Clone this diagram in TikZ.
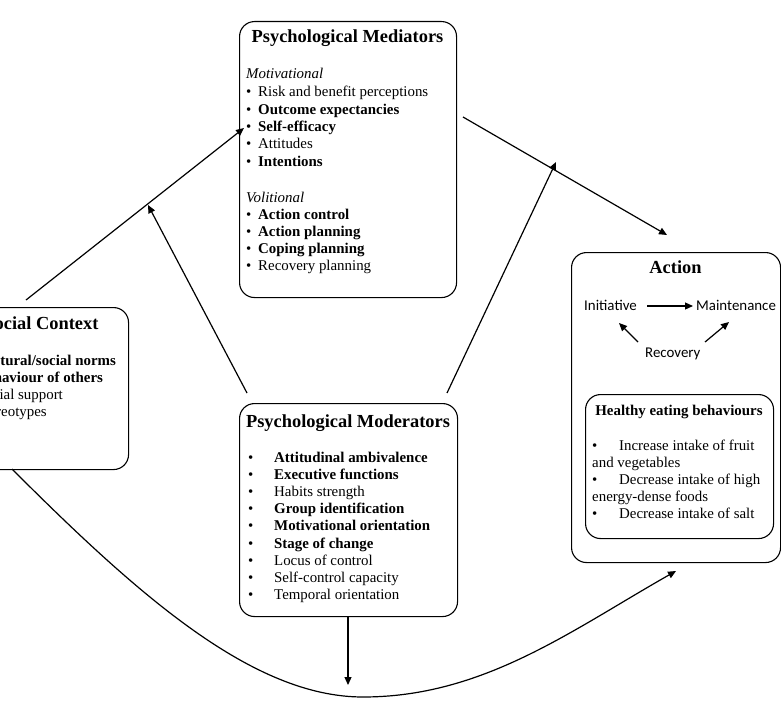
\documentclass[tikz,border=0pt]{standalone}
\usepackage{fontspec}
\setmainfont{Liberation Serif}
\newfontfamily\calfont{Carlito}
\usetikzlibrary{arrows.meta}
\begin{document}
\begin{tikzpicture}[x=1pt,y=-1pt,
  box/.style={draw, line width=1.1pt, rounded corners=15pt, anchor=north west, inner sep=0pt},
  body/.style={inner sep=0pt, anchor=base west, font=\fontsize{14.9}{17.3}\selectfont},
  cal/.style={inner sep=0pt, anchor=base west, font=\calfont\fontsize{14.9}{17.3}\selectfont},
  ttl/.style={inner sep=0pt, anchor=base, font=\fontsize{18.4}{22}\selectfont\bfseries},
  sttl/.style={inner sep=0pt, anchor=base, font=\fontsize{14.9}{17.3}\selectfont\bfseries},
  arr/.style={line width=1.2pt, -{Triangle[length=8pt,width=7pt]}},
  ]
\useasboundingbox (0,0) rectangle (781,714);
\clip (0,0) rectangle (781,714);

% ---------- Psychological Mediators ----------
\node[box, minimum width=217pt, minimum height=276pt] (med) at (239,21) {};
\node[ttl] (medt) at (347.5,43) {Psychological Mediators};
\node[body, font=\fontsize{14.9}{17.3}\selectfont\itshape] (mot) at (246,79) {Motivational};
\foreach \t [count=\i] in {Risk and benefit perceptions, \textbf{Outcome expectancies}, \textbf{Self-efficacy}, Attitudes, \textbf{Intentions}}
  \node[body] (ma\i) at (246,{97+17.3*(\i-1)}) {\makebox[12pt][l]{\textbullet}\t};
\node[body, font=\fontsize{14.9}{17.3}\selectfont\itshape] (vol) at (246,202) {Volitional};
\foreach \t [count=\i] in {\textbf{Action control}, \textbf{Action planning}, \textbf{Coping planning}, Recovery planning}
  \node[body] (mb\i) at (246,{219+17.3*(\i-1)}) {\makebox[12pt][l]{\textbullet}\t};

% ---------- Social Context ----------
\node[box, minimum width=173pt, minimum height=162pt] (soc) at (-45,307) {};
\node[ttl] (soct) at (41.5,329) {Social Context};
\foreach \t [count=\i] in {\textbf{Cultural/social norms}, \textbf{Behaviour of others}, Social support, Stereotypes}
  \node[body] (s\i) at (-35,{365+17.3*(\i-1)}) {\makebox[12pt][l]{\textbullet}\t};

% ---------- Psychological Moderators ----------
\node[box, minimum width=218pt, minimum height=213pt] (mod) at (239,403) {};
\node[ttl] (modt) at (348,427) {Psychological Moderators};
\foreach \t [count=\i] in {\textbf{Attitudinal ambivalence}, \textbf{Executive functions}, Habits strength, \textbf{Group identification}, \textbf{Motivational orientation}, \textbf{Stage of change}, Locus of control, Self-control capacity, Temporal orientation}
  \node[body] (d\i) at (248,{462+17.2*(\i-1)}) {\makebox[26pt][l]{\textbullet}\t};

% ---------- Action ----------
\node[box, minimum width=209pt, minimum height=310pt] (act) at (571,252) {};
\node[ttl] (actt) at (675.5,273) {Action};
\node[cal] (ini) at (584,310) {Initiative};
\node[cal] (mai) at (696,310) {Maintenance};
\node[cal] (rec) at (645,357) {Recovery};
\coordinate (ia) at (647,306);
\coordinate (ib) at (693,306);
\draw[arr] (ia) -- (ib);
\coordinate (ra) at (638,342);
\coordinate (rb) at (619,323);
\draw[arr] (ra) -- (rb);
\coordinate (rc) at (705,342);
\coordinate (rd) at (729,322);
\draw[arr] (rc) -- (rd);

\node[box, minimum width=188pt, minimum height=144pt] (hea) at (585,394) {};
\node[sttl] (heat) at (679,415) {Healthy eating behaviours};
\node[body] (h1) at (592,450) {\makebox[27pt][l]{\textbullet}Increase intake of fruit};
\node[body] (h2) at (592,467) {and vegetables};
\node[body] (h3) at (592,484) {\makebox[27pt][l]{\textbullet}Decrease intake of high};
\node[body] (h4) at (592,501) {energy-dense foods};
\node[body] (h5) at (592,518) {\makebox[27pt][l]{\textbullet}Decrease intake of salt};

% ---------- connectors ----------
\coordinate (c1) at (26,300);
\coordinate (c2) at (244,128);
\draw[arr] (c1) -- (c2);
\coordinate (c3) at (247,393);
\coordinate (c4) at (148,205);
\draw[arr] (c3) -- (c4);
\coordinate (c5) at (447,393);
\coordinate (c6) at (556,162);
\draw[arr] (c5) -- (c6);
\coordinate (c7) at (463,117);
\coordinate (c8) at (667,235);
\draw[arr] (c7) -- (c8);
\coordinate (c9) at (348,685);
\draw[arr] (mod.south -| c9) -- (c9);
\coordinate (u1) at (12,469);
\coordinate (u2) at (363,697);
\coordinate (u3) at (676,571);
\draw[arr] (u1) .. controls (139,596) and (253,697) .. (u2)
                .. controls (483,697) and (570.6,630.8) .. (u3);
\end{tikzpicture}
\end{document}
